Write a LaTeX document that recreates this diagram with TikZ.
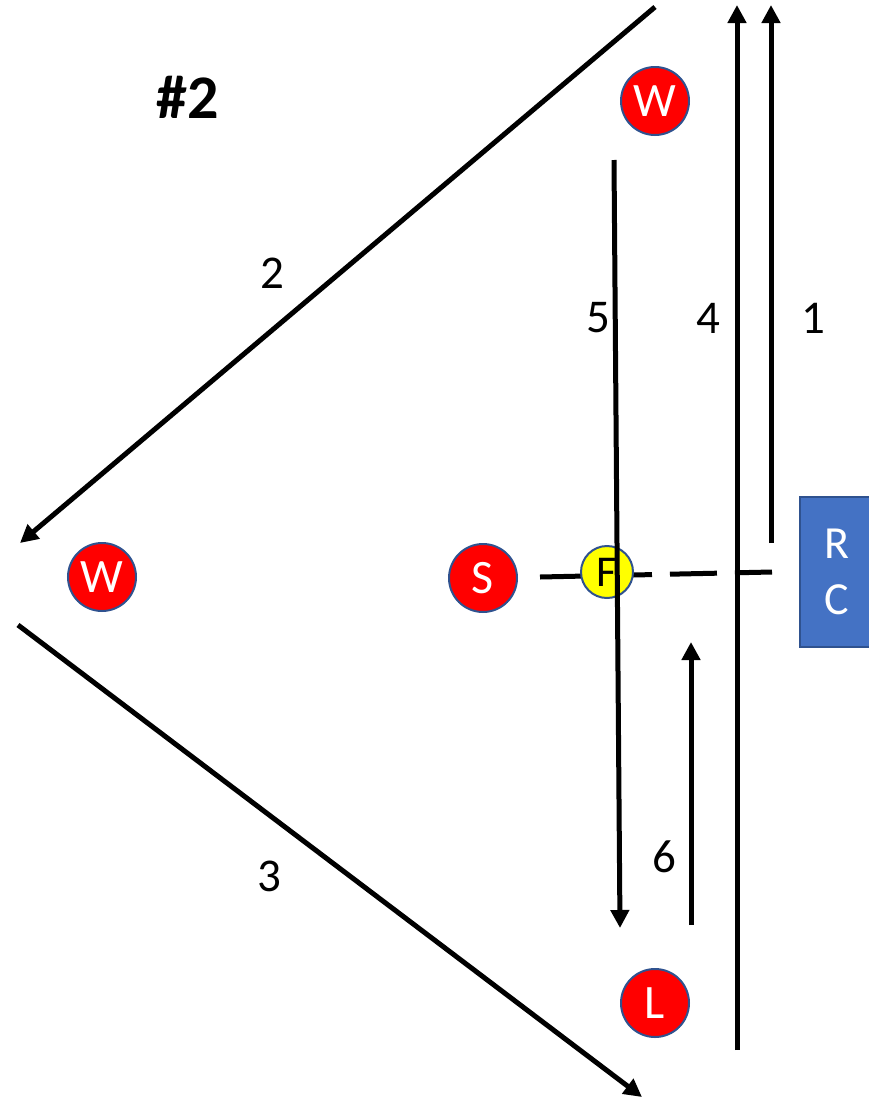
\documentclass[tikz,border=0pt]{standalone}
\usepackage{fontspec}
\setmainfont{Carlito}
\usetikzlibrary{arrows.meta}
\definecolor{ringred}{HTML}{FF0000}
\definecolor{ringblue}{HTML}{2F528F}
\definecolor{boxblue}{HTML}{4472C4}
\definecolor{fyellow}{HTML}{FFFF00}
\begin{document}
\begin{tikzpicture}[x=1pt,y=-1pt,
  conn/.style={line width=5pt,draw=black},
  arr/.style={conn,-{Triangle[length=18pt,width=18pt]}},
  player/.style={circle,draw=ringblue,line width=2pt,fill=ringred,minimum size=68pt,inner sep=0pt,text=white,font=\fontsize{48}{48}\selectfont},
  fball/.style={circle,draw=ringblue,line width=2pt,fill=fyellow,minimum size=52pt,inner sep=0pt,text=black,font=\fontsize{44}{44}\selectfont},
  lbl/.style={font=\fontsize{47}{47}\selectfont,text=black}]
\useasboundingbox (0,0) rectangle (869,1103);
% players
\node[player] (wt) at (655,101) {W};
\node[player] (wl) at (102,577) {W};
\node[player] (s) at (483,578) {S};
\node[player] (l) at (655,1003) {L};
% RC box
\node[draw=ringblue,line width=1.5pt,fill=boxblue,minimum width=74pt,minimum height=150pt,anchor=west,inner sep=0pt,text=white,font=\fontsize{46}{56}\selectfont,align=center] (rc) at (799,572) {R\\C};
% dashed line
\coordinate (d1) at (540,577);
\coordinate (d2) at (772,572);
\draw[conn,dash pattern=on 47pt off 18pt] (d1) -- (d2);
% F circle
\node[fball] (f) at (607,572) {F};
% connectors
\coordinate (a2s) at (655,7);
\coordinate (a2e) at (20,543);
\draw[arr] (a2s) -- (a2e);
\coordinate (a3s) at (18,625);
\coordinate (a3e) at (642,1097);
\draw[arr] (a3s) -- (a3e);
\coordinate (a5s) at (614,160);
\coordinate (a5e) at (620,928);
\draw[arr] (a5s) -- (a5e);
\coordinate (a4s) at (737,1050);
\coordinate (a4e) at (737,5);
\draw[arr] (a4s) -- (a4e);
\coordinate (a1s) at (771,543);
\coordinate (a1e) at (771,5);
\draw[arr] (a1s) -- (a1e);
\coordinate (a6s) at (691,925);
\coordinate (a6e) at (691,642);
\draw[arr] (a6s) -- (a6e);
% labels
\node[lbl] (n2) at (272,273) {2};
\node[lbl] (n3) at (269,876) {3};
\node[lbl] (n5) at (598,318) {5};
\node[lbl] (n4) at (708,318) {4};
\node[lbl] (n1) at (813,318) {1};
\node[lbl] (n6) at (664,857) {6};
\node[font=\bfseries\fontsize{62}{62}\selectfont] (title) at (188,97) {\#2};
\end{tikzpicture}
\end{document}
